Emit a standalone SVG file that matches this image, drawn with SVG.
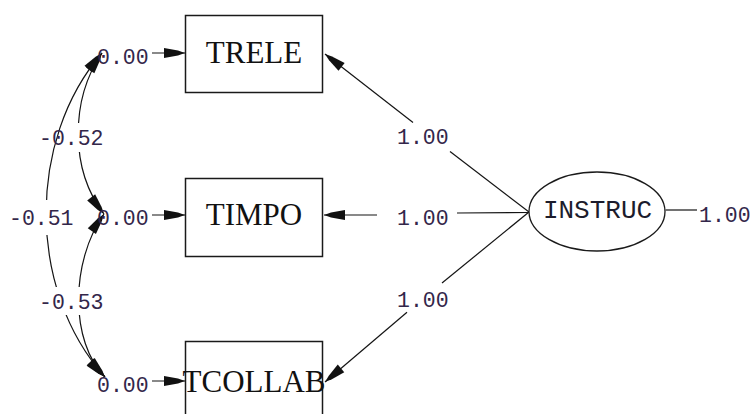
<svg xmlns="http://www.w3.org/2000/svg" width="754" height="414" viewBox="0 0 754 414">
  <style>
    .box { fill: #ffffff; stroke: #1a1a1a; stroke-width: 1.5; }
    .lat { fill: #ffffff; stroke: #1a1a1a; stroke-width: 1.3; }
    .name { font-family: "Liberation Serif", "Times New Roman", serif; font-size: 31px; fill: #111111; text-anchor: middle; }
    .lname { font-family: "Liberation Mono", "Courier New", monospace; font-size: 26px; fill: #1c1c2c; text-anchor: middle; }
    .num { font-family: "Liberation Mono", "Courier New", monospace; font-size: 21.5px; fill: #33264a; }
    .ln { fill: none; stroke: #141414; stroke-width: 1.2; }
  </style>
  <defs>
    <marker id="head" markerUnits="userSpaceOnUse" orient="auto-start-reverse" markerWidth="24" markerHeight="12" refX="22" refY="6" viewBox="0 0 24 12">
      <path d="M22,6 L15,3.6 L1,1 L1,11 L15,8.4 z" fill="#111111"/>
    </marker>
    <!-- openings in the covariance arcs where their coefficients sit -->
    <mask id="gapAB" maskUnits="userSpaceOnUse" x="0" y="0" width="754" height="414">
      <rect x="0" y="0" width="754" height="414" fill="#fff"/>
      <rect x="60" y="123" width="45" height="29" fill="#000"/>
    </mask>
    <mask id="gapAC" maskUnits="userSpaceOnUse" x="0" y="0" width="754" height="414">
      <rect x="0" y="0" width="754" height="414" fill="#fff"/>
      <rect x="8" y="200" width="72" height="35" fill="#000"/>
      <rect x="38" y="287" width="70" height="28" fill="#000"/>
    </mask>
    <mask id="gapBC" maskUnits="userSpaceOnUse" x="0" y="0" width="754" height="414">
      <rect x="0" y="0" width="754" height="414" fill="#fff"/>
      <rect x="38" y="287" width="70" height="28" fill="#000"/>
    </mask>
  </defs>
  <rect width="754" height="414" fill="#ffffff"/>

  <!-- connectors -->
  <g id="connectors">
    <!-- error covariances -->
    <path class="ln" d="M102,53 C70,100 70,170 104,214" mask="url(#gapAB)" marker-start="url(#head)" marker-end="url(#head)"/>
    <path class="ln" d="M104,214 C70,262 70,342 105,377" mask="url(#gapBC)" marker-start="url(#head)" marker-end="url(#head)"/>
    <path class="ln" d="M102,53 C27,140 27,290 105,377" mask="url(#gapAC)" marker-start="url(#head)" marker-end="url(#head)"/>
    <!-- error terms into indicators -->
    <path class="ln" d="M152,53 L185,53" marker-end="url(#head)"/>
    <path class="ln" d="M152,215 L185,215" marker-end="url(#head)"/>
    <path class="ln" d="M152,381 L185,381" marker-end="url(#head)"/>
    <!-- loadings from INSTRUC -->
    <path class="ln" d="M529,212 L450,151.5"/>
    <path class="ln" d="M413,122.5 L325,54" marker-end="url(#head)"/>
    <path class="ln" d="M529,212.5 L457,213"/>
    <path class="ln" d="M377,215 L324,215" marker-end="url(#head)"/>
    <path class="ln" d="M529,212 L442,283"/>
    <path class="ln" d="M407,312.3 L325,382" marker-end="url(#head)"/>
    <!-- latent variance -->
    <path class="ln" d="M665.5,210 L697,210"/>
  </g>

  <!-- coefficient labels -->
  <g id="labels">
    <text class="num" x="97" y="64">0.00</text>
    <text class="num" x="97" y="225">0.00</text>
    <text class="num" x="97" y="392">0.00</text>
    <text class="num" x="39" y="145">-0.52</text>
    <text class="num" x="9" y="225">-0.51</text>
    <text class="num" x="39" y="309">-0.53</text>
    <text class="num" x="397" y="144">1.00</text>
    <text class="num" x="397" y="225">1.00</text>
    <text class="num" x="397" y="307">1.00</text>
    <text class="num" x="699" y="222">1.00</text>
  </g>

  <!-- observed indicators -->
  <g id="TRELE">
    <rect class="box" x="185.5" y="15.5" width="137" height="77"/>
    <text class="name" x="254" y="63">TRELE</text>
  </g>
  <g id="TIMPO">
    <rect class="box" x="185.5" y="178.5" width="137" height="78"/>
    <text class="name" x="254" y="225">TIMPO</text>
  </g>
  <g id="TCOLLAB">
    <rect class="box" x="185.5" y="341.5" width="137" height="78" fill="none" style="fill:none"/>
    <text class="name" x="254" y="392">TCOLLAB</text>
  </g>

  <!-- latent factor -->
  <g id="INSTRUC">
    <ellipse class="lat" cx="597" cy="211.5" rx="68" ry="39.5"/>
    <text class="lname" x="597.5" y="218">INSTRUC</text>
  </g>
</svg>
